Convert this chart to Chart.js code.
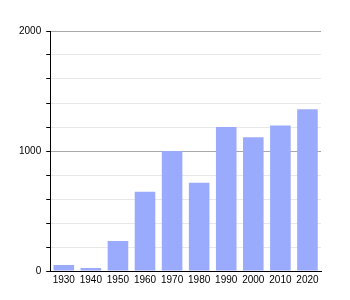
<!DOCTYPE html>
<html>
<head>
<meta charset="utf-8">
<script src="https://cdn.jsdelivr.net/npm/chart.js@4"></script>
<style>
  html, body { margin: 0; padding: 0; background: #fff; }
  #wrap { width: 350px; height: 300px; }
</style>
</head>
<body>
<div id="wrap"><canvas id="chart" width="350" height="300"></canvas></div>
<script>
// population by census year
const years = ['1930', '1940', '1950', '1960', '1970', '1980', '1990', '2000', '2010', '2020'];
const population = [50, 25, 250, 660, 1000, 735, 1200, 1115, 1212, 1347];
const labelledTicks = [0, 1000, 2000];

Chart.defaults.font.family = '"Liberation Sans", Arial, sans-serif';
Chart.defaults.font.size = 10;
Chart.defaults.color = '#000';

new Chart(document.getElementById('chart').getContext('2d'), {
    type: 'bar',
    data: {
        labels: years,
        datasets: [{
            data: population,
            backgroundColor: '#9aabfd',
            borderWidth: 0,
            categoryPercentage: 1,
            barPercentage: 0.76
        }]
    },
    options: {
        responsive: false,
        animation: false,
        plugins: { legend: { display: false }, tooltip: { enabled: false } },
        layout: { padding: { top: 31, right: 29, left: 14, bottom: 11 } },
        scales: {
            x: {
                grid: { display: false, drawTicks: false },
                border: { display: true, color: '#000', width: 1 },
                ticks: { padding: 3, maxRotation: 0, autoSkip: false }
            },
            y: {
                min: 0,
                max: 2000,
                ticks: {
                    stepSize: 200,
                    padding: 5,
                    callback: v => labelledTicks.includes(v) ? String(v) : ''
                },
                grid: {
                    color: ctx => labelledTicks.includes(ctx.tick.value) ? '#a8a8a8' : '#e8e8e8',
                    tickColor: '#000',
                    tickLength: 4
                },
                border: { display: true, color: '#000', width: 1 }
            }
        }
    }
});
</script>
</body>
</html>
